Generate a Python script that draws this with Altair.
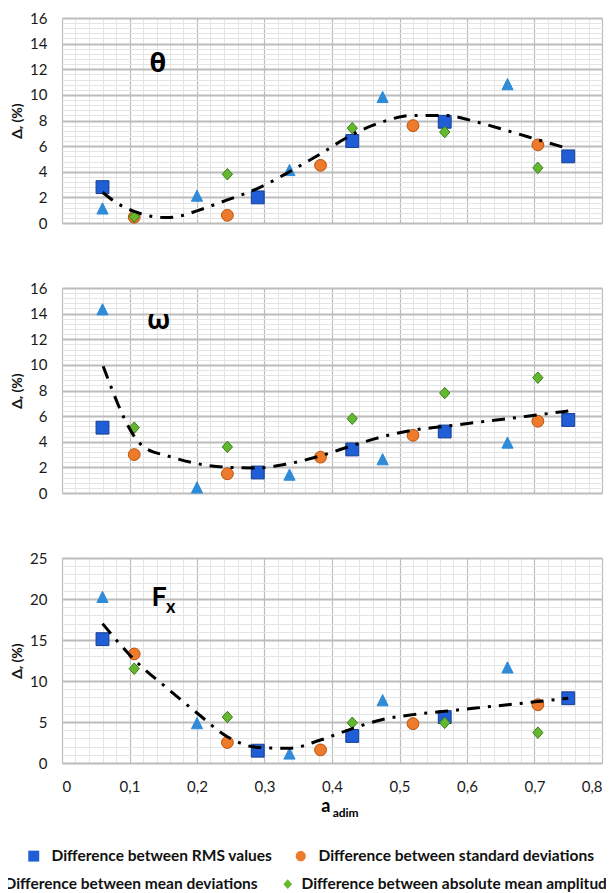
import altair as alt
import pandas as pd

RMS = "Difference between RMS values"
STD = "Difference between standard deviations"
MEAN = "Difference between mean deviations"
ABS = "Difference between absolute mean amplitudes"

# x positions (a_adim) of each series
x_rms = [0.06, 0.29, 0.43, 0.567, 0.75]
x_std = [0.107, 0.245, 0.383, 0.52, 0.705]
x_mean = [0.06, 0.2, 0.337, 0.475, 0.66]
x_abs = [0.107, 0.245, 0.43, 0.567, 0.705]

# theta panel
theta_rms = [2.8, 2.0, 6.4, 7.9, 5.2]
theta_std = [0.45, 0.6, 4.5, 7.6, 6.1]
theta_mean = [1.1, 2.1, 4.1, 9.8, 10.8]
theta_abs = [0.5, 3.8, 7.4, 7.1, 4.3]
theta_trend_x = [0.06, 0.08, 0.107, 0.13, 0.155, 0.18, 0.2, 0.245, 0.29, 0.337,
                 0.383, 0.43, 0.475, 0.52, 0.567, 0.613, 0.66, 0.705, 0.75]
theta_trend_y = [2.4, 1.6, 0.9, 0.55, 0.42, 0.6, 0.95, 1.8, 2.7, 4.0,
                 5.4, 6.9, 7.9, 8.4, 8.4, 7.9, 7.2, 6.5, 5.8]

# omega panel
omega_rms = [5.1, 1.6, 3.4, 4.8, 5.7]
omega_std = [3.0, 1.5, 2.8, 4.5, 5.6]
omega_mean = [14.3, 0.4, 1.4, 2.6, 3.9]
omega_abs = [5.1, 3.6, 5.8, 7.8, 9.0]
omega_trend_x = [0.061, 0.074, 0.0915, 0.106, 0.121, 0.156, 0.2, 0.245, 0.29, 0.337,
                 0.383, 0.43, 0.475, 0.52, 0.567, 0.613, 0.66, 0.705, 0.75]
omega_trend_y = [9.9, 8.1, 5.9, 4.5, 3.6, 2.9, 2.3, 2.0, 1.95, 2.3,
                 2.9, 3.7, 4.4, 4.9, 5.2, 5.5, 5.8, 6.1, 6.4]

# Fx panel
fx_rms = [15.1, 1.5, 3.3, 5.6, 7.9]
fx_std = [13.3, 2.5, 1.6, 4.8, 7.1]
fx_mean = [20.2, 4.8, 1.1, 7.6, 11.6]
fx_abs = [11.5, 5.6, 4.9, 4.9, 3.7]
fx_trend_x = [0.06, 0.107, 0.156, 0.2, 0.245, 0.29, 0.337, 0.383, 0.43, 0.475,
              0.52, 0.567, 0.613, 0.66, 0.705, 0.75]
fx_trend_y = [17.0, 12.6, 9.1, 6.1, 3.2, 1.9, 1.8, 2.8, 4.2, 5.3,
              5.9, 6.3, 6.7, 7.1, 7.5, 7.9]

X_TICKS = [0, 0.1, 0.2, 0.3, 0.4, 0.5, 0.6, 0.7, 0.8]
X_MINOR = [round(i * 0.02, 2) for i in range(41)]

FILL = {RMS: "#1F5ED6", STD: "#EE7B2C", MEAN: "#2E8BD8", ABS: "#63B82F"}
EDGE = {RMS: "#173F8F", STD: "#B85510", MEAN: "#2E8BD8", ABS: "#3A7D1A"}
SHAPE = {
    RMS: "M-1,-1H1V1H-1Z",
    STD: "M0.92,0A0.92,0.92 0 1,1 -0.92,0A0.92,0.92 0 1,1 0.92,0Z",
    MEAN: "M0,-0.95L0.87,0.8L-0.87,0.8Z",
    ABS: "M0,-0.9L0.8,0L0,0.9L-0.8,0Z",
}

FONT = "Lato"
LABEL_EXPR = "datum.value == 0 ? '0' : replace(format(datum.value, '.1f'), '.', ',')"


def legend_for(x, y, pad, offset):
    return alt.Legend(
        title=None, orient="none", legendX=x, legendY=y, direction="horizontal",
        labelFont=FONT, labelFontSize=15.5, labelFontWeight="bold", labelColor="#111",
        symbolSize=120, labelOffset=offset, columnPadding=pad, padding=0,
        symbolStrokeWidth=0, labelLimit=600,
    )


def points(xv, yv, series, xs, ys, xaxis, yaxis, legend):
    xs_all, ys_all, ss = [], [], []
    for xx, yy, s in zip(xv, yv, series):
        xs_all += xx
        ys_all += yy
        ss += [s] * len(xx)
    df = pd.DataFrame({"x": xs_all, "y": ys_all, "series": ss})
    return alt.Chart(df).mark_point(filled=True, opacity=1, strokeWidth=1, size=165).encode(
        x=alt.X("x:Q", scale=xs, axis=xaxis),
        y=alt.Y("y:Q", scale=ys, axis=yaxis),
        fill=alt.Fill("series:N", scale=alt.Scale(domain=series, range=[FILL[s] for s in series]), legend=legend),
        shape=alt.Shape("series:N", scale=alt.Scale(domain=series, range=[SHAPE[s] for s in series]), legend=legend),
        stroke=alt.Stroke("series:N", scale=alt.Scale(domain=series, range=[EDGE[s] for s in series]), legend=None),
    )


def texts(df, xs, ys, size, font, weight="bold", yval=None, align="center"):
    enc = dict(x=alt.X("x:Q", scale=xs, axis=None), text="t:N")
    if yval is None:
        enc["y"] = alt.Y("y:Q", scale=ys, axis=None)
    else:
        enc["y"] = alt.value(yval)
    return alt.Chart(df).mark_text(
        font=font, fontSize=size, fontWeight=weight, color="#000", align=align, baseline="middle"
    ).encode(**enc)


def panel(rms, std, mean, ab, tx, ty, ymax, ymaj, ymin, label_layers, bottom):
    xs = alt.Scale(domain=[0, 0.8], nice=False, zero=False)
    ys = alt.Scale(domain=[0, ymax], nice=False)
    trend = pd.DataFrame({"x": tx, "y": ty})

    minor_x = alt.Axis(orient="bottom", values=X_MINOR, grid=True, gridColor="#e4e4e4", gridWidth=1,
                       labels=False, ticks=False, domain=False, title=None)
    minor_y = alt.Axis(orient="left", values=ymin, grid=True, gridColor="#e4e4e4", gridWidth=1,
                       labels=False, ticks=False, domain=False, title=None)
    if bottom:
        major_x = alt.Axis(orient="bottom", values=X_TICKS, grid=True, gridColor="#bcbcbc", gridWidth=1.2,
                           ticks=False, domain=False, title=None, labelExpr=LABEL_EXPR, labelFlush=4,
                           labelFont=FONT, labelFontSize=15, labelColor="#1a1a1a", labelPadding=16)
    else:
        major_x = alt.Axis(orient="bottom", values=X_TICKS, grid=True, gridColor="#bcbcbc", gridWidth=1.2,
                           ticks=False, domain=False, title=None, labels=False)
    major_y = alt.Axis(orient="left", values=ymaj, grid=True, gridColor="#bcbcbc", gridWidth=1.8,
                       ticks=False, domain=False, title="Δᵣ (%)", titleFont=FONT, titleFontSize=14,
                       titleFontWeight="bold", titleColor="#111", titlePadding=5,
                       labelFont=FONT, labelFontSize=15, labelColor="#1a1a1a", labelPadding=15)

    grid = alt.Chart(trend).mark_line(strokeOpacity=0).encode(
        x=alt.X("x:Q", scale=xs, axis=minor_x), y=alt.Y("y:Q", scale=ys, axis=minor_y))

    legA = legend_for(-36, 290, 20, 10) if bottom else None
    legB = legend_for(-79, 318, 22, 6) if bottom else None
    layA = points([x_rms, x_std], [rms, std], [RMS, STD], xs, ys, major_x, major_y, legA)
    layB = points([x_mean, x_abs], [mean, ab], [MEAN, ABS], xs, ys, None, None, legB)

    line = alt.Chart(trend).mark_line(
        color="#000", strokeWidth=3, strokeDash=[13, 8, 3, 8], interpolate="monotone", strokeCap="butt"
    ).encode(x=alt.X("x:Q", scale=xs, axis=None), y=alt.Y("y:Q", scale=ys, axis=None))

    labs = [texts(df, xs, ys, size, font, yval=yv, align=al) for (df, size, font, yv, al) in label_layers]

    return alt.layer(grid, layA, layB, line, *labs).resolve_scale(
        fill="independent", shape="independent", stroke="independent"
    ).resolve_axis(x="independent", y="independent").properties(width=540, height=205)


p1 = panel(theta_rms, theta_std, theta_mean, theta_abs, theta_trend_x, theta_trend_y,
           16, list(range(0, 17, 2)), [round(i * 0.4, 1) for i in range(41)],
           [(pd.DataFrame({"t": ["θ"], "x": [0.142], "y": [12.4]}), 27, "Open Sans", None, "center")],
           False)
p2 = panel(omega_rms, omega_std, omega_mean, omega_abs, omega_trend_x, omega_trend_y,
           16, list(range(0, 17, 2)), [round(i * 0.4, 1) for i in range(41)],
           [(pd.DataFrame({"t": ["ω"], "x": [0.143], "y": [13.4]}), 27, "Open Sans", None, "center")],
           False)
p3 = panel(fx_rms, fx_std, fx_mean, fx_abs, fx_trend_x, fx_trend_y,
           25, list(range(0, 26, 5)), list(range(0, 26)),
           [(pd.DataFrame({"t": ["F"], "x": [0.144], "y": [20.1]}), 27, FONT, None, "center"),
            (pd.DataFrame({"t": ["x"], "x": [0.161], "y": [18.9]}), 18, FONT, None, "center"),
            (pd.DataFrame({"t": ["a"], "x": [0.391]}), 18, FONT, 249, "center"),
            (pd.DataFrame({"t": ["adim"], "x": [0.401]}), 12, FONT, 255, "left")],
           True)

chart = alt.vconcat(p1, p2, p3, spacing=48).resolve_scale(
    x="independent", y="independent", fill="independent", shape="independent", stroke="independent"
).properties(
    padding={"left": -26, "top": 2, "right": -18, "bottom": 0}
).configure_view(stroke="#333333", strokeWidth=2).configure(background="white")

chart.save("out.html", embed_options={"renderer": "svg", "actions": False})
